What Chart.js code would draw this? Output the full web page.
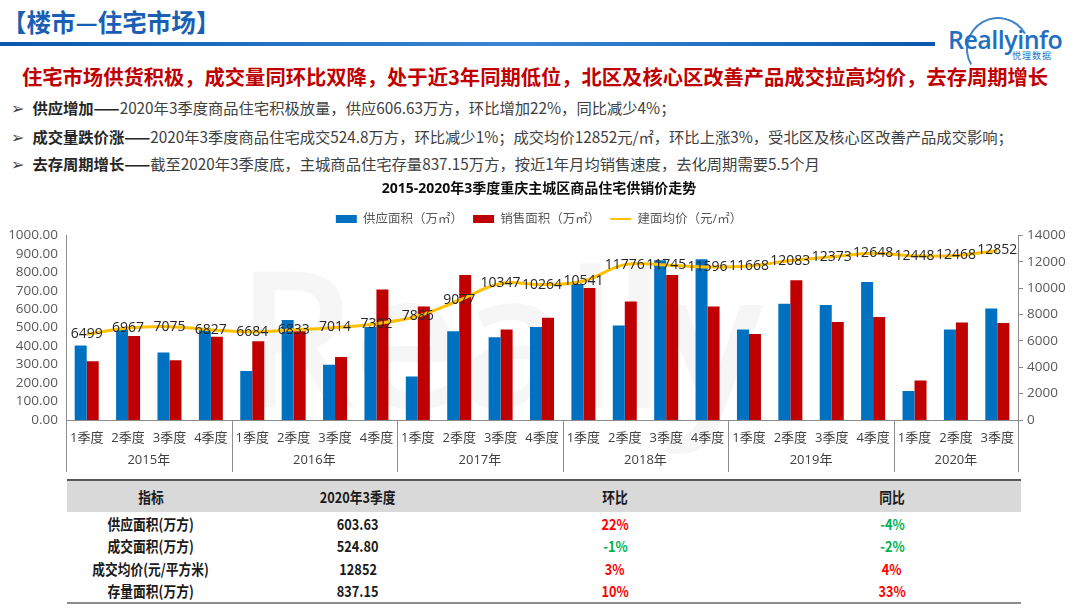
<!DOCTYPE html>
<html>
<head>
<meta charset="utf-8">
<script src="https://cdn.jsdelivr.net/npm/chart.js@4.4.0/dist/chart.umd.min.js"></script>
<style>
  html, body { margin: 0; padding: 0; background: #fff; }
  body { width: 1080px; height: 608px; position: relative; overflow: hidden;
         font-family: "Noto Sans CJK SC", "Noto Sans", sans-serif; }
  .title { position: absolute; left: 2px; top: 4px; font-size: 24.5px; font-weight: bold; color: #1a5fb4; }
  .rule { position: absolute; left: 0; top: 42px; width: 935px; height: 4px;
          background: linear-gradient(90deg, #0b57ad, #3a86d4 55%, #0b57ad); }
  .logo { position: absolute; left: 948px; top: 22px; font-family: "Open Sans", sans-serif; font-weight: 600;
          font-size: 25px; color: #1f6fc2; letter-spacing: -0.5px; }
  .logo-sub { position: absolute; left: 1012px; top: 49px; font-size: 9px; color: #1f6fc2; letter-spacing: 1px; }
  .arc { position: absolute; left: 966px; top: 17px; width: 60px; height: 60px; border-radius: 50%;
         border: 2px solid transparent; border-top-color: #1f6fc2; border-left-color: #1f6fc2;
         transform: rotate(15deg); opacity: 0.85; }
  .headline { position: absolute; left: 22px; top: 61px; font-size: 20.3px; font-weight: bold; color: #c00000; white-space: nowrap; }
  .bullet { position: absolute; left: 11px; font-size: 15.3px; color: #404040; white-space: nowrap; }
  .bullet .mk { font-family: "DejaVu Sans"; font-size: 16px; color: #404040; margin-right: 8px; }
  .bullet b { color: #262626; }
  .wm { position: absolute; left: 235px; top: 205px; font-family: "Open Sans", sans-serif; font-weight: 600;
        font-size: 190px; color: rgba(0,0,0,0.035); letter-spacing: -4px; }
  #wrap { position: absolute; left: 0; top: 176px; width: 1080px; height: 300px; }
  table { position: absolute; left: 67px; top: 479px; width: 954px; border-collapse: collapse;
          border-top: 2px solid #595959; border-bottom: 2px solid #8c8c8c; }
  th, td { text-align: center; padding: 0; font-weight: bold; font-size: 15px; color: #1a1a1a; }
  th { background: #d9d9d9; height: 31px; }
  td { height: 22.5px; }
  th span, td span { display: inline-block; transform: scaleX(0.85); }
  .up { color: #ff0000; }
  .dn { color: #00b050; }
</style>
</head>
<body>
<div class="title">【楼市—住宅市场】</div>
<div class="rule"></div>
<div class="arc"></div>
<div class="logo">Reallyinfo</div>
<div class="logo-sub">悦理数据</div>
<div class="headline">住宅市场供货积极，成交量同环比双降，处于近3年同期低位，北区及核心区改善产品成交拉高均价，去存周期增长</div>
<div class="bullet" style="top:96px"><span class="mk">➢</span><b>供应增加——</b>2020年3季度商品住宅积极放量，供应606.63万方，环比增加22%，同比减少4%；</div>
<div class="bullet" style="top:125px"><span class="mk">➢</span><b>成交量跌价涨——</b>2020年3季度商品住宅成交524.8万方，环比减少1%；成交均价12852元/㎡，环比上涨3%，受北区及核心区改善产品成交影响；</div>
<div class="bullet" style="top:152px"><span class="mk">➢</span><b>去存周期增长——</b>截至2020年3季度底，主城商品住宅存量837.15万方，按近1年月均销售速度，去化周期需要5.5个月</div>
<div class="wm">Really</div>
<div id="wrap"><canvas id="chart"></canvas></div>
<table>
  <colgroup><col style="width:168px"><col style="width:246px"><col style="width:268px"><col style="width:272px"></colgroup>
  <tr><th><span>指标</span></th><th><span>2020年3季度</span></th><th><span>环比</span></th><th style="padding-left:14px"><span>同比</span></th></tr>
  <tr><td><span>供应面积(万方)</span></td><td><span>603.63</span></td><td class="up"><span>22%</span></td><td class="dn" style="padding-left:14px"><span>-4%</span></td></tr>
  <tr><td><span>成交面积(万方)</span></td><td><span>524.80</span></td><td class="dn"><span>-1%</span></td><td class="dn" style="padding-left:14px"><span>-2%</span></td></tr>
  <tr><td><span>成交均价(元/平方米)</span></td><td><span>12852</span></td><td class="up"><span>3%</span></td><td class="up" style="padding-left:14px"><span>4%</span></td></tr>
  <tr><td><span>存量面积(万方)</span></td><td><span>837.15</span></td><td class="up"><span>10%</span></td><td class="up" style="padding-left:14px"><span>33%</span></td></tr>
</table>
<script>
const quarterLabels = ['1季度', '2季度', '3季度', '4季度', '1季度', '2季度', '3季度', '4季度',
  '1季度', '2季度', '3季度', '4季度', '1季度', '2季度', '3季度', '4季度',
  '1季度', '2季度', '3季度', '4季度', '1季度', '2季度', '3季度'];
const yearLabels = ['2015年', '2016年', '2017年', '2018年', '2019年', '2020年'];
const quartersPerYear = [4, 4, 4, 4, 4, 3];

// 供应面积 / 销售面积 (万㎡), 建面均价 (元/㎡)
const supplyArea = [404, 490, 366, 497, 265, 541, 299, 503, 236, 480, 448, 503,
  737, 512, 865, 871, 490, 629, 623, 747, 157, 490, 604];
const salesArea = [318, 455, 324, 451, 427, 480, 341, 707, 614, 785, 490, 553,
  714, 642, 785, 614, 465, 757, 531, 557, 214, 528, 525];
const avgPrice = [6499, 6967, 7075, 6827, 6684, 6833, 7014, 7302, 7886, 9077, 10347, 10264,
  10541, 11776, 11745, 11596, 11668, 12083, 12373, 12648, 12448, 12468, 12852];

Chart.defaults.font.family = '"Open Sans", "Noto Sans CJK SC", sans-serif';
Chart.defaults.color = '#595959';

const axisGray = '#8c8c8c';

// labels sit right on the price line points
const priceLabels = {
  id: 'priceLabels',
  afterDatasetsDraw(chart) {
    const ctx = chart.ctx;
    const meta = chart.getDatasetMeta(2);
    ctx.save();
    ctx.font = '14px "Open Sans", sans-serif';
    ctx.fillStyle = '#262626';
    ctx.textAlign = 'center';
    ctx.textBaseline = 'middle';
    meta.data.forEach((pt, i) => {
      ctx.fillText(String(avgPrice[i]), pt.x, pt.y);
    });
    ctx.restore();
  }
};

// second row of the category axis: years with separators
const yearGroups = {
  id: 'yearGroups',
  afterDraw(chart) {
    const { ctx, chartArea } = chart;
    const x = chart.scales.x;
    const half = (x.getPixelForValue(1) - x.getPixelForValue(0)) / 2;
    const top = chartArea.bottom;
    const bottom = chartArea.bottom + 52;
    ctx.save();
    ctx.strokeStyle = axisGray;
    ctx.lineWidth = 1;
    ctx.fillStyle = '#404040';
    ctx.font = '13px "Open Sans", "Noto Sans CJK SC", sans-serif';
    ctx.textAlign = 'center';
    ctx.textBaseline = 'middle';
    let start = 0;
    quartersPerYear.forEach((n, i) => {
      const left = x.getPixelForValue(start) - half;
      const right = x.getPixelForValue(start + n - 1) + half;
      ctx.beginPath();
      ctx.moveTo(Math.round(left) + 0.5, top);
      ctx.lineTo(Math.round(left) + 0.5, bottom);
      if (i === quartersPerYear.length - 1) {
        ctx.moveTo(Math.round(right) + 0.5, top);
        ctx.lineTo(Math.round(right) + 0.5, bottom);
      }
      ctx.stroke();
      ctx.fillText(yearLabels[i], (left + right) / 2, chartArea.bottom + 40);
      start += n;
    });
    ctx.restore();
  }
};

new Chart(document.getElementById('chart'), {
  type: 'bar',
  data: {
    labels: quarterLabels,
    datasets: [
      {
        label: '供应面积（万㎡）',
        data: supplyArea,
        backgroundColor: '#0070c0',
        categoryPercentage: 0.58,
        barPercentage: 1.0,
        yAxisID: 'y'
      },
      {
        label: '销售面积（万㎡）',
        data: salesArea,
        backgroundColor: '#c00000',
        categoryPercentage: 0.58,
        barPercentage: 1.0,
        yAxisID: 'y'
      },
      {
        type: 'line',
        label: '建面均价（元/㎡）',
        data: avgPrice,
        borderColor: '#ffc000',
        backgroundColor: '#ffc000',
        borderWidth: 3,
        tension: 0.4,
        pointRadius: 0,
        fill: false,
        yAxisID: 'y1',
        order: -1
      }
    ]
  },
  options: {
    responsive: true,
    maintainAspectRatio: false,
    animation: false,
    layout: { padding: { left: 8, right: 10, top: 1, bottom: 4 } },
    plugins: {
      tooltip: { enabled: false },
      title: {
        display: true,
        text: '2015-2020年3季度重庆主城区商品住宅供销价走势',
        color: '#0d0d0d',
        font: { size: 14, weight: 'bold' },
        padding: { top: 4, bottom: 5 }
      },
      legend: {
        position: 'top',
        labels: {
          usePointStyle: true,
          pointStyleWidth: 21,
          boxHeight: 8,
          padding: 10,
          color: '#595959',
          font: { size: 12.5 },
          generateLabels(chart) {
            const items = Chart.defaults.plugins.legend.labels.generateLabels(chart);
            items.forEach(it => {
              const ds = chart.data.datasets[it.datasetIndex];
              if (ds.type === 'line') {
                it.pointStyle = 'line';
                it.strokeStyle = ds.borderColor;
                it.lineWidth = 2;
              } else {
                it.pointStyle = 'rect';
                it.lineWidth = 0;
              }
            });
            return items.sort((a, b) => a.datasetIndex - b.datasetIndex);
          }
        }
      }
    },
    scales: {
      x: {
        grid: { display: false, drawTicks: false },
        border: { display: true, color: axisGray },
        ticks: { color: '#404040', font: { size: 13 }, padding: 10, maxRotation: 0, autoSkip: false },
        afterFit(scale) { scale.height = 52; }
      },
      y: {
        position: 'left',
        min: 0,
        max: 1000,
        grid: { display: false, drawTicks: false },
        border: { display: true, color: axisGray },
        ticks: { stepSize: 100, autoSkip: false, padding: 8, font: { size: 13.5 }, color: '#595959',
                 callback: v => v.toFixed(2) },
        afterFit(scale) { scale.width = 58; }
      },
      y1: {
        position: 'right',
        min: 0,
        max: 14000,
        grid: { display: true, drawOnChartArea: false, tickLength: 5, color: axisGray },
        border: { display: true, color: axisGray },
        ticks: { stepSize: 2000, autoSkip: false, padding: 4, font: { size: 13.5 }, color: '#595959',
                 callback: v => String(v) },
        afterFit(scale) { scale.width = 52; }
      }
    }
  },
  plugins: [priceLabels, yearGroups]
});
</script>
</body>
</html>
